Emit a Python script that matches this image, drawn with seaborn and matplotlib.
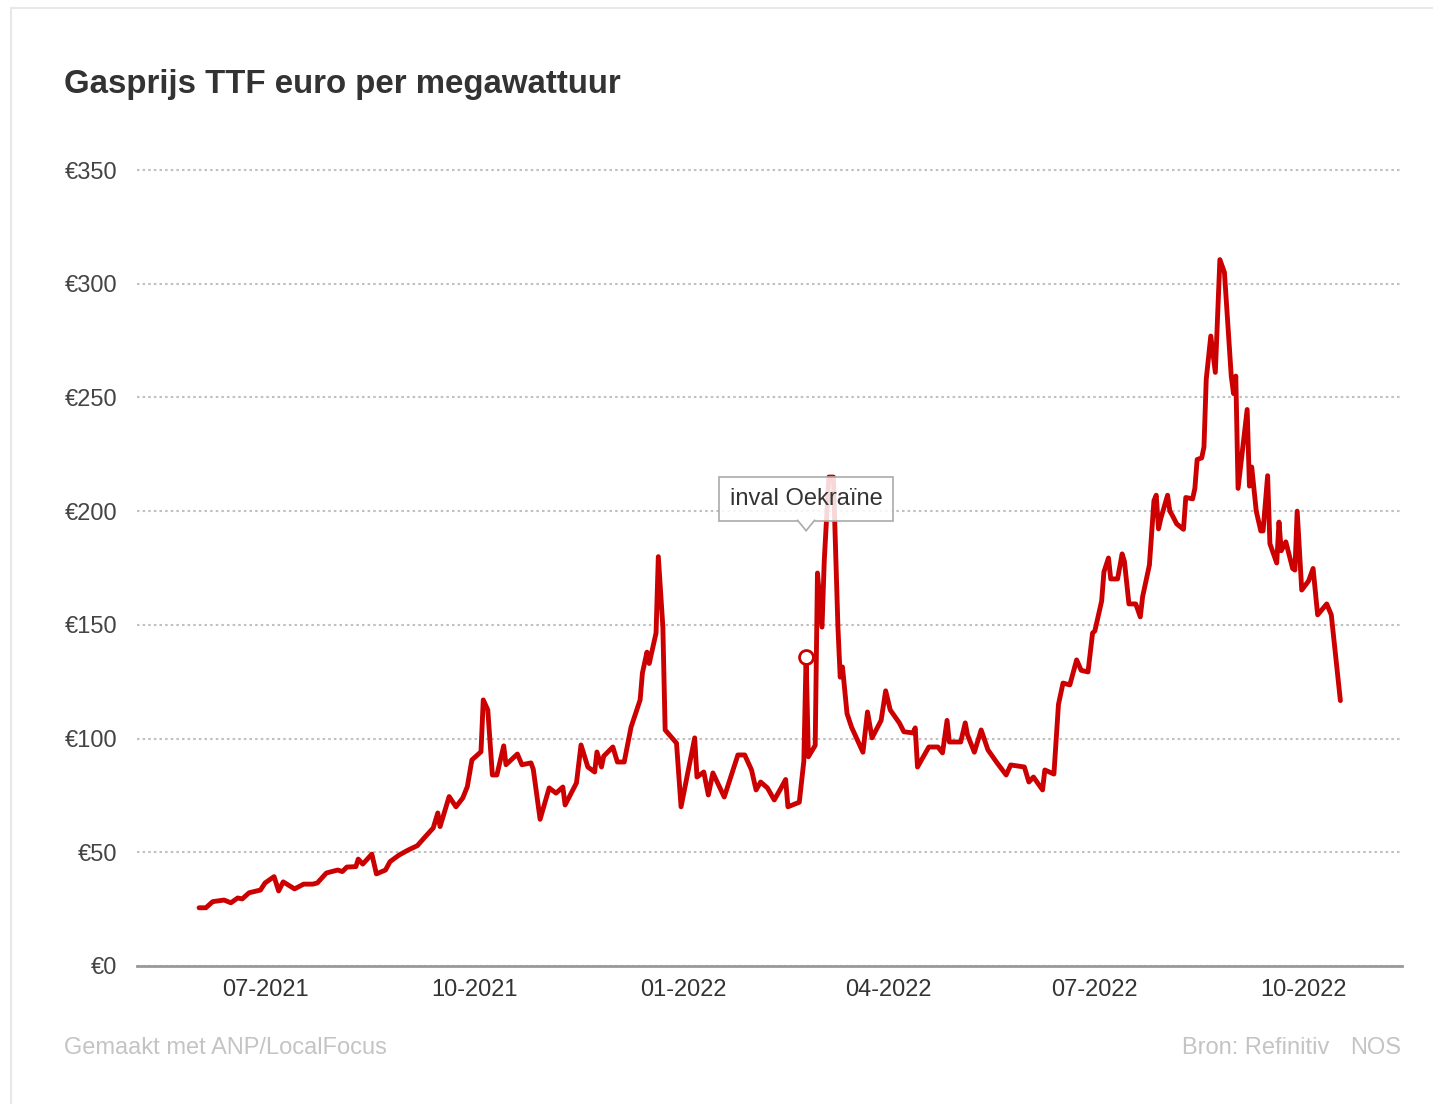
import matplotlib
matplotlib.use('Agg')
import matplotlib.pyplot as plt
import matplotlib.dates as mdates
from matplotlib.patches import Rectangle, Polygon
from matplotlib.transforms import IdentityTransform
import pandas as pd
import seaborn as sns

# TTF gas price, euro per MWh
dates = [
    "2021-06-02", "2021-06-05", "2021-06-08", "2021-06-13", "2021-06-16", "2021-06-19",
    "2021-06-21", "2021-06-24", "2021-06-29", "2021-07-01", "2021-07-05", "2021-07-07",
    "2021-07-09", "2021-07-14", "2021-07-18", "2021-07-22", "2021-07-24", "2021-07-28",
    "2021-08-02", "2021-08-04", "2021-08-06", "2021-08-10", "2021-08-11", "2021-08-13",
    "2021-08-17", "2021-08-19", "2021-08-23", "2021-08-25", "2021-08-29", "2021-09-02",
    "2021-09-06", "2021-09-09", "2021-09-13", "2021-09-15", "2021-09-16", "2021-09-20",
    "2021-09-23", "2021-09-26", "2021-09-28", "2021-09-30", "2021-10-04", "2021-10-05",
    "2021-10-07", "2021-10-09", "2021-10-11", "2021-10-14", "2021-10-15", "2021-10-20",
    "2021-10-22", "2021-10-26", "2021-10-27", "2021-10-30", "2021-11-03", "2021-11-06",
    "2021-11-09", "2021-11-10", "2021-11-15", "2021-11-17", "2021-11-20", "2021-11-23",
    "2021-11-24", "2021-11-26", "2021-11-27", "2021-12-01", "2021-12-03", "2021-12-06",
    "2021-12-09", "2021-12-13", "2021-12-14", "2021-12-16", "2021-12-17", "2021-12-20",
    "2021-12-21", "2021-12-23", "2021-12-24", "2021-12-29", "2021-12-31", "2022-01-06",
    "2022-01-07", "2022-01-10", "2022-01-12", "2022-01-14", "2022-01-19", "2022-01-25",
    "2022-01-28", "2022-01-31", "2022-02-02", "2022-02-04", "2022-02-07", "2022-02-10",
    "2022-02-13", "2022-02-15", "2022-02-16", "2022-02-21", "2022-02-23", "2022-02-24",
    "2022-02-25", "2022-02-28", "2022-03-01", "2022-03-03", "2022-03-04", "2022-03-06",
    "2022-03-08", "2022-03-10", "2022-03-11", "2022-03-12", "2022-03-14", "2022-03-16",
    "2022-03-21", "2022-03-23", "2022-03-25", "2022-03-29", "2022-03-31", "2022-04-02",
    "2022-04-06", "2022-04-08", "2022-04-12", "2022-04-13", "2022-04-14", "2022-04-19",
    "2022-04-23", "2022-04-25", "2022-04-27", "2022-04-28", "2022-05-03", "2022-05-05",
    "2022-05-06", "2022-05-09", "2022-05-12", "2022-05-15", "2022-05-19", "2022-05-23",
    "2022-05-25", "2022-05-31", "2022-06-02", "2022-06-04", "2022-06-08", "2022-06-09",
    "2022-06-13", "2022-06-15", "2022-06-17", "2022-06-20", "2022-06-23", "2022-06-25",
    "2022-06-28", "2022-06-30", "2022-07-01", "2022-07-04", "2022-07-05", "2022-07-07",
    "2022-07-08", "2022-07-11", "2022-07-13", "2022-07-14", "2022-07-16", "2022-07-19",
    "2022-07-21", "2022-07-22", "2022-07-25", "2022-07-27", "2022-07-28", "2022-07-29",
    "2022-07-30", "2022-08-02", "2022-08-03", "2022-08-04", "2022-08-06", "2022-08-09",
    "2022-08-10", "2022-08-13", "2022-08-14", "2022-08-15", "2022-08-17", "2022-08-18",
    "2022-08-19", "2022-08-21", "2022-08-23", "2022-08-25", "2022-08-27", "2022-08-30",
    "2022-08-31", "2022-09-01", "2022-09-02", "2022-09-06", "2022-09-07", "2022-09-08",
    "2022-09-10", "2022-09-12", "2022-09-13", "2022-09-15", "2022-09-16", "2022-09-19",
    "2022-09-20", "2022-09-21", "2022-09-23", "2022-09-26", "2022-09-27", "2022-09-28",
    "2022-09-30", "2022-10-03", "2022-10-05", "2022-10-07", "2022-10-11", "2022-10-13",
    "2022-10-17",
]
prices = [
    25.6, 25.6, 28.3, 29.0, 27.8, 29.9,
    29.5, 32.2, 33.4, 36.5, 39.3, 33.0,
    37.0, 33.9, 36.0, 36.0, 36.5, 40.9,
    42.2, 41.5, 43.5, 43.7, 47.0, 44.8,
    49.2, 40.5, 42.2, 45.9, 48.8, 51.0,
    52.9, 56.3, 60.7, 67.3, 61.3, 74.5,
    70.0, 73.9, 78.9, 90.6, 94.2, 117.0,
    112.6, 84.0, 84.0, 96.8, 88.5, 93.2,
    88.5, 89.3, 86.5, 64.5, 78.3, 76.0,
    78.7, 70.8, 80.5, 97.2, 87.5, 85.3,
    94.1, 87.5, 92.3, 96.3, 89.7, 89.7,
    105.0, 117.0, 128.8, 138.0, 133.0, 146.4,
    180.0, 149.0, 103.8, 98.0, 70.0, 100.3,
    83.1, 85.3, 75.2, 84.9, 74.3, 92.8,
    92.8, 86.2, 77.4, 80.9, 78.3, 73.0,
    78.3, 82.0, 70.0, 72.0, 90.0, 136.0,
    92.0, 97.0, 172.8, 149.0, 178.5, 215.0,
    215.0, 149.0, 127.0, 131.5, 111.0, 105.0,
    94.0, 111.7, 100.3, 108.0, 121.0, 112.6,
    106.9, 103.0, 102.5, 104.7, 87.5, 96.3,
    96.3, 93.7, 108.0, 98.5, 98.5, 106.9,
    101.6, 94.0, 103.8, 95.0, 89.3, 84.0,
    88.4, 87.5, 80.9, 83.1, 77.4, 86.2,
    84.4, 115.0, 124.4, 123.6, 134.6, 130.0,
    129.3, 146.4, 147.3, 160.5, 173.3, 179.4,
    170.2, 170.2, 181.2, 178.0, 159.2, 159.2,
    153.5, 162.3, 176.3, 204.6, 207.0, 192.2,
    196.7, 207.0, 200.0, 198.3, 194.4, 192.0,
    206.0, 205.4, 210.0, 222.7, 223.4, 228.2,
    258.0, 277.0, 261.0, 310.6, 305.0, 259.4,
    251.7, 259.4, 210.0, 244.7, 211.0, 219.4,
    200.0, 191.3, 191.3, 215.6, 185.7, 177.2,
    195.2, 182.6, 186.5, 174.8, 174.1, 200.0,
    165.3, 169.3, 174.8, 154.4, 159.2, 154.4,
    116.7,
]

event_date = "2022-02-24"
event_label = "inval Oekraïne"
event_box_y = 205.3   # centre of the label box, in euro

y_ticks = [0, 50, 100, 150, 200, 250, 300, 350]
x_ticks = ["2021-07-01", "2021-10-01", "2022-01-01", "2022-04-01", "2022-07-01", "2022-10-01"]

title = "Gasprijs TTF euro per megawattuur"
credit = "Gemaakt met ANP/LocalFocus"
source = "Bron: Refinitiv"
brand = "NOS"

RED = "#cc0000"

df = pd.DataFrame({"date": pd.to_datetime(dates), "price": prices})

sns.set_theme(style="white")
plt.rcParams['font.family'] = ['Liberation Sans', 'DejaVu Sans']

W, H = 1433, 1104
fig = plt.figure(figsize=(W / 100, H / 100), dpi=100)
fig.patch.set_facecolor("white")

# axes placed in pixels of the reference
ax = fig.add_axes([137 / W, 1 - 966 / H, (1402 - 137) / W, (966 - 124) / H])
ax.set_facecolor("white")

sns.lineplot(data=df, x="date", y="price", color=RED, linewidth=3.5,
             estimator=None, ax=ax, zorder=3)

# scales
px_day = (1304 - 265) / 457
x_ref = pd.Timestamp("2021-07-01")
ax.set_xlim(x_ref - pd.Timedelta(days=(265 - 137) / px_day),
            x_ref + pd.Timedelta(days=(1402 - 265) / px_day))
ax.set_ylim(0, (966 - 124) / ((966 - 170) / 350))

ax.set_xticks(pd.to_datetime(x_ticks))
ax.xaxis.set_major_formatter(mdates.DateFormatter("%m-%Y"))
ax.set_yticks(y_ticks)
ax.set_yticklabels([f"€{v}" for v in y_ticks])
ax.tick_params(axis="y", length=0, pad=14.4, labelsize=17, labelcolor="#444444")
ax.tick_params(axis="x", length=0, pad=9.5, labelsize=17, labelcolor="#333333")
ax.set_xlabel("")
ax.set_ylabel("")

ax.yaxis.grid(True, color="#c0c0c0", linestyle=(0, (1.2, 1.5)), linewidth=1.5)
ax.set_axisbelow(True)
for side in ["left", "right", "top"]:
    ax.spines[side].set_visible(False)
ax.spines["bottom"].set_color("#999999")
ax.spines["bottom"].set_linewidth(2)
ax.spines["bottom"].set_zorder(4)

# event marker and label
ev = df[df["date"] == pd.Timestamp(event_date)]
ax.plot(ev["date"], ev["price"], marker="o", markersize=10, markerfacecolor="white",
        markeredgecolor=RED, markeredgewidth=2, linestyle="none", zorder=5)

label = ax.text(pd.Timestamp(event_date), event_box_y, event_label, ha="center", va="center",
                fontsize=17, color="#333333", zorder=6,
                bbox=dict(boxstyle="square,pad=0.45", fc=(1, 1, 1, 0.85), ec="#aaaaaa", lw=1.2))

fig.canvas.draw()
bb = label.get_bbox_patch().get_window_extent()
cx = (bb.x0 + bb.x1) / 2
yb = bb.y0
pointer = Polygon([(cx - 9, yb + 1), (cx, yb - 10), (cx + 9, yb + 1)], closed=False,
                  facecolor="white", edgecolor="#aaaaaa", lw=1.2,
                  transform=IdentityTransform(), zorder=7)
fig.add_artist(pointer)

# texts
fig.text(64 / W, 1 - 93 / H, title, fontsize=23.8, fontweight="bold", color="#333333",
         va="baseline", ha="left")
fig.text(64 / W, 1 - 1054 / H, credit, fontsize=17, color="#c4c4c4", va="baseline", ha="left")
fig.text(1329 / W, 1 - 1054 / H, source, fontsize=17, color="#c4c4c4", va="baseline", ha="right")
fig.text(1401 / W, 1 - 1054 / H, brand, fontsize=17, color="#c4c4c4", va="baseline", ha="right")

# light card border
fig.add_artist(Rectangle((11 / W, -0.5), 2, 1.5 - 8 / H, transform=fig.transFigure,
                         fill=False, edgecolor="#e8e8e8", lw=1.5))

fig.savefig("out.png", dpi=100, facecolor="white")
